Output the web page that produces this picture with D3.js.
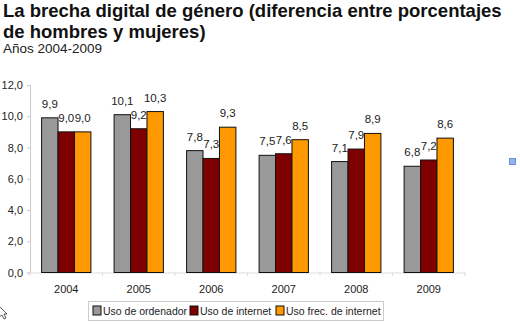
<!DOCTYPE html>
<html>
<head>
<meta charset="utf-8">
<script src="https://cdn.jsdelivr.net/npm/d3@7"></script>
<style>
  body { margin: 0; background: #fff; }
  svg { font-family: "Liberation Sans", Arial, sans-serif; }
</style>
</head>
<body>
<svg id="chart" width="520" height="325"></svg>
<script>
var years = ["2004", "2005", "2006", "2007", "2008", "2009"];
var seriesNames = ["Uso de ordenador", "Uso de internet", "Uso frec. de internet"];
var ordenador = [9.9, 10.1, 7.8, 7.5, 7.1, 6.8];
var internet = [9.0, 9.2, 7.3, 7.6, 7.9, 7.2];
var frecInternet = [9.0, 10.3, 9.3, 8.5, 8.9, 8.6];
var yTicks = [0, 2, 4, 6, 8, 10, 12];
var colors = ["#999999", "#7f0000", "#ff9900"];

var seriesValues = [ordenador, internet, frecInternet];
var fmt = function(v) { return v.toFixed(1).replace(".", ","); };

var svg = d3.select("#chart");

// title
var title = svg.append("text").attr("x", 3).attr("font-weight", "bold")
  .attr("font-size", 18.5).attr("fill", "#111");
title.append("tspan").attr("x", 3).attr("y", 17)
  .text("La brecha digital de género (diferencia entre porcentajes");
title.append("tspan").attr("x", 3).attr("y", 38)
  .text("de hombres y mujeres)");
svg.append("text").attr("x", 3).attr("y", 53).attr("font-size", 13.5)
  .attr("fill", "#222").text("Años 2004-2009");

var x0 = d3.scaleBand().domain(years).range([30, 465]).paddingInner(0.32).paddingOuter(0.16);
var x1 = d3.scaleBand().domain(d3.range(3)).range([0, x0.bandwidth()]);
var y = d3.scaleLinear().domain([0, 12]).range([272.5, 85]);

// y axis
var yAxis = svg.append("g").attr("transform", "translate(30,0)")
  .call(d3.axisLeft(y).tickValues(yTicks).tickFormat(fmt).tickSize(3));
yAxis.select(".domain").attr("stroke", "#ccc");
yAxis.selectAll(".tick line").attr("stroke", "#ccc");
yAxis.selectAll("text").attr("font-size", 11).attr("fill", "#222")
  .attr("font-family", "Liberation Sans, Arial, sans-serif").attr("x", -7);

// x axis
var xBand = d3.scaleBand().domain(years).range([30, 465]);
var xAxis = svg.append("g").attr("transform", "translate(0,272.5)")
  .call(d3.axisBottom(xBand).tickSize(0).tickPadding(13));
xAxis.select(".domain").attr("stroke", "#ddd");
xAxis.selectAll("text").attr("font-size", 11).attr("fill", "#222")
  .attr("font-family", "Liberation Sans, Arial, sans-serif");
svg.append("g").selectAll("line").data(years.concat(["end"])).join("line")
  .attr("x1", function(d, i) { return 30 + i * xBand.bandwidth(); })
  .attr("x2", function(d, i) { return 30 + i * xBand.bandwidth(); })
  .attr("y1", 272.5).attr("y2", 276).attr("stroke", "#ddd");

// bars
var groups = svg.append("g").selectAll("g").data(years).join("g")
  .attr("transform", function(d) { return "translate(" + x0(d) + ",0)"; });
groups.selectAll("rect").data(function(d, i) {
    return seriesValues.map(function(s, k) { return {k: k, v: s[i]}; });
  }).join("rect")
  .attr("x", function(d) { return x1(d.k); })
  .attr("y", function(d) { return y(d.v); })
  .attr("width", x1.bandwidth())
  .attr("height", function(d) { return y(0) - y(d.v); })
  .attr("fill", function(d) { return colors[d.k]; })
  .attr("stroke", "#111").attr("stroke-width", 1);

groups.selectAll("text.val").data(function(d, i) {
    return seriesValues.map(function(s, k) { return {k: k, v: s[i]}; });
  }).join("text").attr("class", "val")
  .attr("x", function(d) { return x1(d.k) + x1.bandwidth() / 2; })
  .attr("y", function(d) { return y(d.v) - 10; })
  .attr("text-anchor", "middle").attr("font-size", 11.5).attr("fill", "#222")
  .text(function(d) { return fmt(d.v); });

// legend
var legend = svg.append("g");
legend.append("rect").attr("x", 88.5).attr("y", 301.5).attr("width", 295).attr("height", 19)
  .attr("fill", "#fff").attr("stroke", "#ccc");
var legendX = [93, 190, 276];
var items = legend.selectAll("g").data(seriesNames).join("g")
  .attr("transform", function(d, i) { return "translate(" + legendX[i] + ",306)"; });
items.append("rect").attr("width", 8).attr("height", 9)
  .attr("fill", function(d, i) { return colors[i]; }).attr("stroke", "#111");
items.append("text").attr("x", 10).attr("y", 9).attr("font-size", 10.5)
  .attr("fill", "#222").text(function(d) { return d; });

// small icon at the right
svg.append("rect").attr("x", 509.5).attr("y", 158.5).attr("width", 6).attr("height", 6)
  .attr("fill", "#8fb6f2").attr("stroke", "#6f8fcf");

// mouse pointer at lower left
svg.append("path")
  .attr("d", "M-1,306 L7,314 L4,314 L6,318 L4,319 L2,315 L-1,317 Z")
  .attr("fill", "#fff").attr("stroke", "#333").attr("stroke-width", 0.8);
</script>
</body>
</html>
